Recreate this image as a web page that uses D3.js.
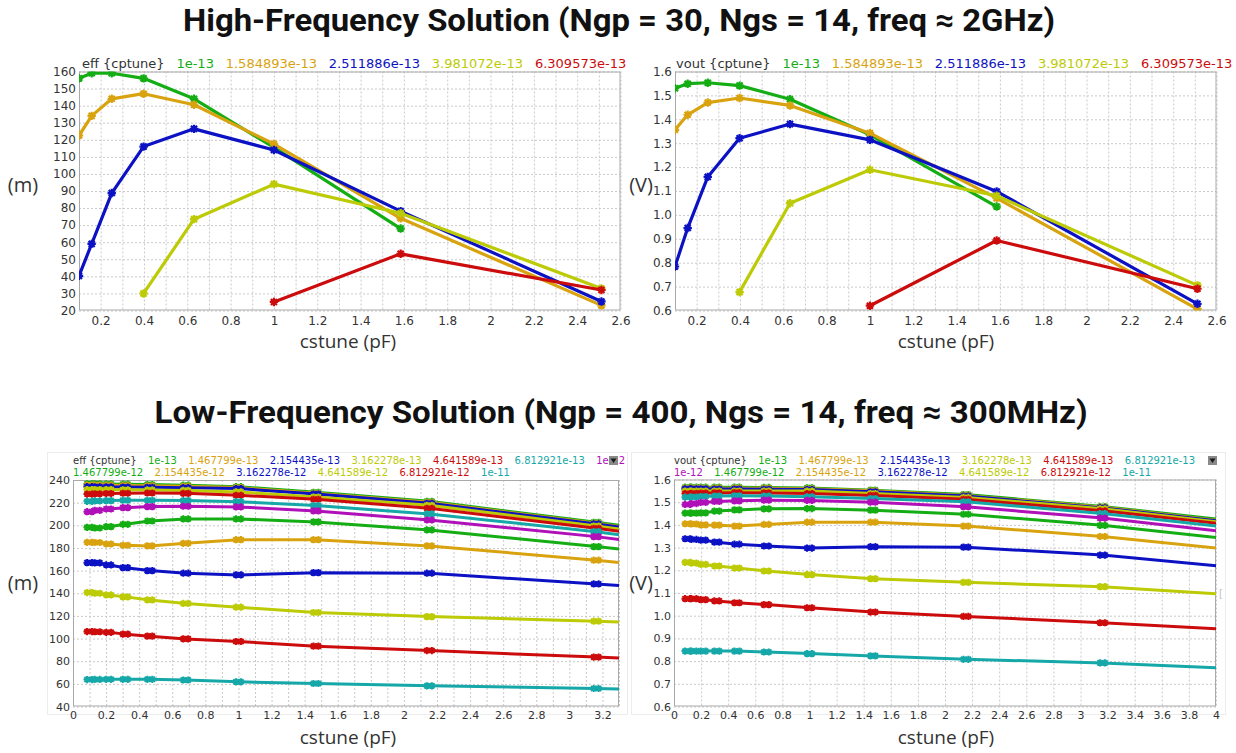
<!DOCTYPE html>
<html>
<head>
<meta charset="utf-8">
<script src="https://cdn.jsdelivr.net/npm/d3@7"></script>
<style>
  body { margin: 0; background: #fff; }
  svg { display: block; }
</style>
</head>
<body>
<svg id="chart" width="1236" height="753"></svg>
<script>
// ---------- data ----------
// High-frequency sweep: cstune (pF) on x, one curve per cptune value
const hfCstune = [0.1, 0.1585, 0.2512, 0.3981, 0.631, 1.0, 1.585, 2.512];
const hfCptune = ["1e-13", "1.584893e-13", "2.511886e-13", "3.981072e-13", "6.309573e-13"];
const hfEff = [
  [156, 159, 159, 156, 144, 115.5, 68, null],
  [122.5, 134, 144, 147, 140.5, 117.5, 74, 23],
  [40.3, 59, 88.8, 116, 126.4, 114, 78.2, 25.3],
  [null, null, null, 30, 73.5, 94, 77, 32.9],
  [null, null, null, null, null, 25, 53.2, 32]
];
const hfVout = [
  [1.53, 1.549, 1.553, 1.541, 1.484, 1.335, 1.035, null],
  [1.356, 1.419, 1.47, 1.489, 1.458, 1.342, 1.07, 0.606],
  [0.784, 0.945, 1.159, 1.321, 1.38, 1.314, 1.098, 0.628],
  [null, null, null, 0.677, 1.049, 1.189, 1.08, 0.705],
  [null, null, null, null, null, 0.62, 0.893, 0.691]
];

// Low-frequency sweep
const lfCstune = [0.1, 0.1468, 0.2154, 0.3162, 0.4642, 0.6813, 1.0, 1.468, 2.154, 3.162, 4.642];
const lfCptune = ["1e-13", "1.467799e-13", "2.154435e-13", "3.162278e-13", "4.641589e-13",
  "6.812921e-13", "1e-12", "1.467799e-12", "2.154435e-12", "3.162278e-12",
  "4.641589e-12", "6.812921e-12", "1e-11"];
const lfEff = [
  [236.7, 236.6, 236.5, 236.3, 236.0, 235.4, 234.1, 229.1, 221.2, 202.7, 173.0],
  [235.6, 235.5, 235.4, 235.2, 234.9, 234.4, 233.3, 228.2, 220.3, 201.8, 172.0],
  [234.1, 234.0, 233.9, 233.8, 233.6, 233.2, 232.4, 227.6, 219.4, 201.2, 171.5],
  [231.6, 231.6, 231.5, 231.4, 231.2, 230.8, 229.5, 225.0, 217.7, 199.4, 170.0],
  [227.6, 227.8, 228.1, 228.3, 228.5, 228.2, 226.5, 223.0, 215.0, 197.4, 168.0],
  [221.2, 221.5, 221.8, 222.1, 222.1, 221.8, 220.9, 217.4, 210.0, 194.4, 165.0],
  [212.0, 213.2, 214.4, 215.6, 216.5, 216.8, 216.2, 212.7, 204.7, 190.0, 163.0],
  [198.2, 197.6, 198.8, 200.9, 203.8, 205.6, 205.6, 203.0, 195.9, 181.2, 158.0],
  [185.0, 184.8, 183.5, 182.4, 181.8, 184.1, 187.3, 187.3, 181.8, 169.2, 148.0],
  [167.0, 166.8, 165.0, 162.6, 160.0, 157.7, 156.2, 158.2, 157.7, 148.2, 133.0],
  [140.6, 140.0, 138.5, 136.8, 134.1, 131.0, 127.7, 123.0, 119.4, 115.3, 108.5],
  [106.2, 106.0, 105.5, 103.9, 102.1, 99.7, 97.4, 93.3, 89.4, 83.6, 75.0],
  [63.8, 63.9, 64.0, 64.0, 64.0, 63.4, 61.8, 60.3, 58.3, 55.9, 52.0]
];
const lfVout = [
  [1.566, 1.566, 1.566, 1.566, 1.566, 1.565, 1.563, 1.553, 1.534, 1.481, 1.384],
  [1.562, 1.562, 1.562, 1.562, 1.562, 1.561, 1.559, 1.550, 1.530, 1.478, 1.377],
  [1.559, 1.559, 1.559, 1.558, 1.558, 1.557, 1.556, 1.546, 1.527, 1.475, 1.374],
  [1.549, 1.549, 1.549, 1.549, 1.549, 1.549, 1.549, 1.538, 1.521, 1.471, 1.370],
  [1.538, 1.539, 1.540, 1.541, 1.542, 1.541, 1.538, 1.530, 1.513, 1.462, 1.365],
  [1.522, 1.523, 1.525, 1.527, 1.528, 1.527, 1.524, 1.516, 1.502, 1.450, 1.353],
  [1.490, 1.494, 1.499, 1.503, 1.506, 1.509, 1.508, 1.500, 1.480, 1.430, 1.331],
  [1.452, 1.452, 1.453, 1.461, 1.466, 1.471, 1.472, 1.465, 1.447, 1.398, 1.304],
  [1.405, 1.404, 1.400, 1.399, 1.395, 1.402, 1.412, 1.412, 1.395, 1.349, 1.259],
  [1.339, 1.336, 1.333, 1.324, 1.315, 1.307, 1.298, 1.304, 1.302, 1.267, 1.184],
  [1.235, 1.232, 1.226, 1.219, 1.210, 1.197, 1.181, 1.163, 1.147, 1.128, 1.072],
  [1.075, 1.075, 1.071, 1.065, 1.057, 1.049, 1.035, 1.016, 0.997, 0.969, 0.923],
  [0.844, 0.844, 0.844, 0.844, 0.844, 0.840, 0.833, 0.823, 0.808, 0.792, 0.755]
];

// tick labels
const hfXTicks = [0.2, 0.4, 0.6, 0.8, 1, 1.2, 1.4, 1.6, 1.8, 2, 2.2, 2.4, 2.6];
const hfEffTicks = [20, 30, 40, 50, 60, 70, 80, 90, 100, 110, 120, 130, 140, 150, 160];
const hfVoutTicks = [0.6, 0.7, 0.8, 0.9, 1.0, 1.1, 1.2, 1.3, 1.4, 1.5, 1.6];
const lfEffXTicks = [0, 0.2, 0.4, 0.6, 0.8, 1, 1.2, 1.4, 1.6, 1.8, 2, 2.2, 2.4, 2.6, 2.8, 3, 3.2];
const lfVoutXTicks = [0, 0.2, 0.4, 0.6, 0.8, 1, 1.2, 1.4, 1.6, 1.8, 2, 2.2, 2.4, 2.6, 2.8, 3, 3.2, 3.4, 3.6, 3.8, 4];
const lfEffTicks = [40, 60, 80, 100, 120, 140, 160, 180, 200, 220, 240];
const lfVoutTicks = [0.6, 0.7, 0.8, 0.9, 1.0, 1.1, 1.2, 1.3, 1.4, 1.5, 1.6];

// viewer's colour cycle
const palette = ["#14ad14", "#d9a310", "#0c12c4", "#bccb05", "#cc0c0c", "#16a8a8", "#b010b8"];

// ---------- drawing ----------
const svg = d3.select("#chart");
const tickFont = "DejaVu Sans, Verdana, sans-serif";
const labelFont = "'Open Sans', 'Noto Sans', sans-serif";

// titles
svg.append("text")
  .attr("x", 619).attr("y", 31).attr("text-anchor", "middle")
  .attr("font-family", "Roboto, 'Open Sans', sans-serif").attr("font-weight", 700)
  .attr("font-size", 32).attr("fill", "#111")
  .attr("textLength", 872).attr("lengthAdjust", "spacingAndGlyphs")
  .text("High-Frequency Solution (Ngp = 30, Ngs = 14, freq \u2248 2GHz)");
svg.append("text")
  .attr("x", 621).attr("y", 423).attr("text-anchor", "middle")
  .attr("font-family", "Roboto, 'Open Sans', sans-serif").attr("font-weight", 700)
  .attr("font-size", 32).attr("fill", "#111")
  .attr("textLength", 933).attr("lengthAdjust", "spacingAndGlyphs")
  .text("Low-Frequency Solution (Ngp = 400, Ngs = 14, freq \u2248 300MHz)");

// light frames of the lower viewer panels
svg.append("rect").attr("x", 47.5).attr("y", 452.5).attr("width", 580).attr("height", 262)
  .attr("fill", "none").attr("stroke", "#ececec");
svg.append("rect").attr("x", 631.5).attr("y", 452.5).attr("width", 594).attr("height", 262)
  .attr("fill", "none").attr("stroke", "#ececec");

// small clipped widget edge at the right of the lower-right viewer
svg.append("text").attr("x", 1219).attr("y", 597).attr("font-family", tickFont)
  .attr("font-size", 10).attr("fill", "#c4c4c4").text("[");

const fmtX = d => String(+d.toFixed(1));

const panels = [
  { id: "p0", left: 79, right: 620.5, top: 71.5, bottom: 310.5,
    xDom: [0.1, 2.6], yDom: [20, 160], xTicks: hfXTicks, yTicks: hfEffTicks,
    xGrid: d3.range(1, 27).map(d => d / 10), yGrid: hfEffTicks,
    yFmt: d => String(d), xs: hfCstune, ys: hfEff, names: hfCptune,
    legendTitle: "eff {cptune}", legendX: 82, legendY: 68, legendSize: 13, legendGap: 11.8, legendMax: 640, lineGap: 13,
    tickSize: 12, lineW: 3.2, markerR: 4.2, markerW: 2.2, dbl: false,
    unit: "(m)", unitX: 23, unitY: 192, xLabelY: 348, xLabelX: 348 },
  { id: "p1", left: 675, right: 1216.5, top: 71.5, bottom: 310.5,
    xDom: [0.1, 2.6], yDom: [0.6, 1.6], xTicks: hfXTicks, yTicks: hfVoutTicks,
    xGrid: d3.range(1, 27).map(d => d / 10), yGrid: hfVoutTicks,
    yFmt: d3.format(".1f"), xs: hfCstune, ys: hfVout, names: hfCptune,
    legendTitle: "vout {cptune}", legendX: 676, legendY: 68, legendSize: 13, legendGap: 11.8, legendMax: 1236, lineGap: 13,
    tickSize: 12, lineW: 3.2, markerR: 4.2, markerW: 2.2, dbl: false,
    unit: "(V)", unitX: 641, unitY: 192, xLabelY: 348, xLabelX: 946 },
  { id: "p2", left: 73, right: 619, top: 480, bottom: 706.5,
    xDom: [0, 3.3], yDom: [40, 240], xTicks: lfEffXTicks, yTicks: lfEffTicks,
    xGrid: d3.range(0, 34).map(d => d / 10), yGrid: lfEffTicks,
    yFmt: d => String(d), xs: lfCstune, ys: lfEff, names: lfCptune,
    legendTitle: "eff {cptune}", legendX: 73, legendY: 464, legendSize: 10, legendGap: 11.4, legendMax: 630, lineGap: 12,
    tickSize: 11, lineW: 3, markerR: 3.6, markerW: 2, dbl: true,
    unit: "(m)", unitX: 23, unitY: 590, xLabelY: 744, xLabelX: 348,
    button: [609, 456] },
  { id: "p3", left: 674, right: 1216, top: 479.5, bottom: 706.5,
    xDom: [0, 4], yDom: [0.6, 1.6], xTicks: lfVoutXTicks, yTicks: lfVoutTicks,
    xGrid: lfVoutXTicks, yGrid: lfVoutTicks,
    yFmt: d3.format(".1f"), xs: lfCstune, ys: lfVout, names: lfCptune,
    legendTitle: "vout {cptune}", legendX: 674, legendY: 464, legendSize: 10, legendGap: 11.4, legendMax: 1215, lineGap: 12,
    tickSize: 11, lineW: 3, markerR: 3.6, markerW: 2, dbl: true,
    unit: "(V)", unitX: 641, unitY: 590, xLabelY: 744, xLabelX: 946,
    button: [1208, 456] }
];

function asterisk(r) {
  const a = r * 0.72;
  return `M${-r},0H${r}M0,${-r}V${r}M${-a},${-a}L${a},${a}M${-a},${a}L${a},${-a}`;
}

panels.forEach(p => {
  const w = p.right - p.left, h = p.bottom - p.top;
  const x = d3.scaleLinear().domain(p.xDom).range([0, w]);
  const y = d3.scaleLinear().domain(p.yDom).range([h, 0]);
  const g = svg.append("g").attr("transform", `translate(${p.left},${p.top})`);

  g.append("rect").attr("width", w).attr("height", h).attr("fill", "#fff");

  // dotted grid
  const gxGrid = g.append("g").call(d3.axisBottom(x).tickValues(p.xGrid).tickSize(h).tickFormat(""));
  const gyGrid = g.append("g").call(d3.axisLeft(y).tickValues(p.yGrid).tickSize(-w).tickFormat(""));
  [gxGrid, gyGrid].forEach(s => {
    s.select(".domain").remove();
    s.selectAll("line").attr("stroke", "#c9c9c9").attr("stroke-dasharray", "2,2").attr("stroke-width", 1);
  });

  // frame
  g.append("rect").attr("x", 0.5).attr("y", 0.5).attr("width", w - 1).attr("height", h - 1)
    .attr("fill", "none").attr("stroke", "#a9a9a9");

  // tick labels
  const ax = g.append("g").attr("transform", `translate(0,${h})`)
    .call(d3.axisBottom(x).tickValues(p.xTicks).tickSize(0).tickPadding(p.tickSize === 12 ? 6 : 5).tickFormat(fmtX));
  const ay = g.append("g")
    .call(d3.axisLeft(y).tickValues(p.yTicks).tickSize(0).tickPadding(3).tickFormat(p.yFmt));
  [ax, ay].forEach(s => {
    s.select(".domain").remove();
    s.selectAll("text").attr("font-family", tickFont).attr("font-size", p.tickSize).attr("fill", "#333");
  });

  // curves
  const clipId = "clip-" + p.id;
  g.append("clipPath").attr("id", clipId).append("rect").attr("width", w).attr("height", h);
  const plot = g.append("g").attr("clip-path", `url(#${clipId})`);
  const line = d3.line().defined(d => d.v != null).x(d => x(d.x)).y(d => y(d.v));

  p.ys.forEach((vals, i) => {
    const pts = vals.map((v, j) => ({ x: p.xs[j], v }));
    const col = palette[i % palette.length];
    plot.append("path").datum(pts).attr("d", line)
      .attr("fill", "none").attr("stroke", col).attr("stroke-width", p.lineW)
      .attr("stroke-linejoin", "round").attr("stroke-linecap", "round");
    const offs = p.dbl ? [-2.5, 2.5] : [0];
    offs.forEach(o => {
      plot.append("g").selectAll("path").data(pts.filter(d => d.v != null)).join("path")
        .attr("transform", d => `translate(${x(d.x) + o},${y(d.v)})`)
        .attr("d", asterisk(p.markerR))
        .attr("fill", "none").attr("stroke", col).attr("stroke-width", p.markerW);
    });
  });

  // legend, wrapped onto a second line when it runs out of room
  const lg = svg.append("g").attr("font-family", tickFont).attr("font-size", p.legendSize);
  let cx = p.legendX, cy = p.legendY;
  const items = [{ t: p.legendTitle, c: "#333" }].concat(p.names.map((n, i) => ({ t: n, c: palette[i % palette.length] })));
  items.forEach(it => {
    const t = lg.append("text").attr("x", cx).attr("y", cy).attr("fill", it.c).text(it.t);
    const len = t.node().getComputedTextLength();
    if (cx + len > p.legendMax && cx > p.legendX) {
      cx = p.legendX; cy += p.lineGap;
      t.attr("x", cx).attr("y", cy);
    }
    cx += len + p.legendGap;
  });

  if (p.button) {
    const [bx, by] = p.button;
    svg.append("rect").attr("x", bx).attr("y", by).attr("width", 9).attr("height", 9).attr("fill", "#8a8a8a");
    svg.append("path").attr("d", `M${bx + 1.5},${by + 2.5}H${bx + 7.5}L${bx + 4.5},${by + 7}Z`).attr("fill", "#1a1a1a");
  }

  // axis titles
  svg.append("text").attr("x", p.xLabelX).attr("y", p.xLabelY).attr("text-anchor", "middle")
    .attr("font-family", labelFont).attr("font-size", 19).attr("fill", "#333").text("cstune (pF)");
  svg.append("text").attr("x", p.unitX).attr("y", p.unitY).attr("text-anchor", "middle")
    .attr("font-family", labelFont).attr("font-size", 20).attr("fill", "#333").text(p.unit);
});
</script>
</body>
</html>
